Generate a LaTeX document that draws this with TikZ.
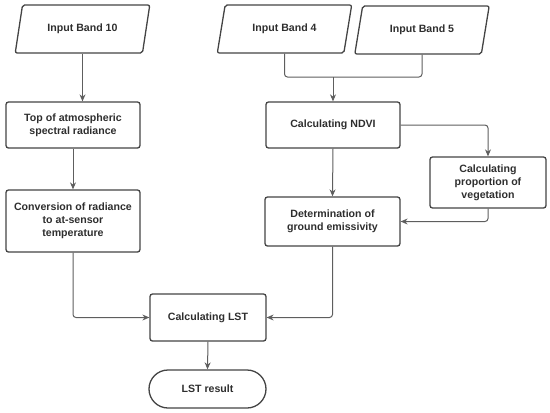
\documentclass[tikz,border=0pt]{standalone}
\usepackage{fontspec}
\setmainfont{Liberation Sans}
\usepackage{xcolor}
\usetikzlibrary{shapes.geometric, arrows.meta}
\definecolor{boxline}{HTML}{444444}
\definecolor{flowline}{HTML}{5E5E5E}
\definecolor{txt}{HTML}{2E2E2E}

\begin{document}
\begin{tikzpicture}[
        x=1pt, y=-1pt,
        >={Stealth[length=7pt, width=6pt]},
        font=\fontsize{10.6}{13}\selectfont\bfseries,
        inputbox/.style={trapezium, trapezium left angle=72, trapezium right angle=108,
                trapezium stretches=true, draw=boxline, line width=1.3pt, rounded corners=2pt,
                text=txt, align=center, minimum width=135pt, minimum height=48pt, inner sep=2pt},
        process/.style={rectangle, draw=boxline, line width=1.3pt, rounded corners=2.5pt,
                text=txt, align=center, inner sep=2pt},
        terminal/.style={rectangle, draw=boxline, line width=1.3pt, rounded corners=19pt,
                text=txt, align=center, minimum width=117pt, minimum height=38pt},
        arrow/.style={->, draw=flowline, line width=1pt, rounded corners=3pt},
        link/.style={draw=flowline, line width=1pt, rounded corners=3pt},
    ]
    \useasboundingbox (0,0) rectangle (550,413);

    % --- inputs ---------------------------------------------------------
    \node[inputbox] (band10) at (82.5,29) {Input Band 10};
    \node[inputbox] (band4)  at (284.5,29) {Input Band 4};
    \node[inputbox] (band5)  at (422,30) {Input Band 5};

    % --- processing -----------------------------------------------------
    \node[process, minimum width=134pt, minimum height=46pt] (toa)  at (73,125)
    {Top of atmospheric\\spectral radiance};
    \node[process, minimum width=134pt, minimum height=62pt] (conv) at (73,221)
    {Conversion of radiance\\to at-sensor\\temperature};
    \node[process, minimum width=134pt, minimum height=46pt] (ndvi) at (333,125)
    {Calculating NDVI};
    \node[process, minimum width=116pt, minimum height=51pt] (prop) at (488,182.5)
    {Calculating\\proportion of\\vegetation};
    \node[process, minimum width=135pt, minimum height=49pt] (emis) at (332.5,221.5)
    {Determination of\\ground emissivity};
    \node[process, minimum width=116pt, minimum height=47pt] (lst)  at (208,317.5)
    {Calculating LST};
    \node[terminal] (result) at (207.5,389) {LST result};

    \coordinate (merge) at (333,77);

    % --- connectors -----------------------------------------------------
    \draw[arrow] (band10.south) -- (band10.south |- toa.north);
    \draw[link] (band4.south) |- (merge) -| (band5.south);
    \draw[arrow] (merge) -- (ndvi.north);

    \draw[arrow] (toa.south) -- (conv.north);
    \draw[arrow] (conv.south) |- (lst.west);

    \draw[arrow] (ndvi.east) -| (prop.north);
    \draw[arrow] (ndvi.south) -- (emis.north);
    \draw[arrow] (prop.south) |- (emis.east);
    \draw[arrow] (emis.south) |- (lst.east);

    \draw[arrow] (lst.south) -- (result.north);
\end{tikzpicture}
\end{document}
